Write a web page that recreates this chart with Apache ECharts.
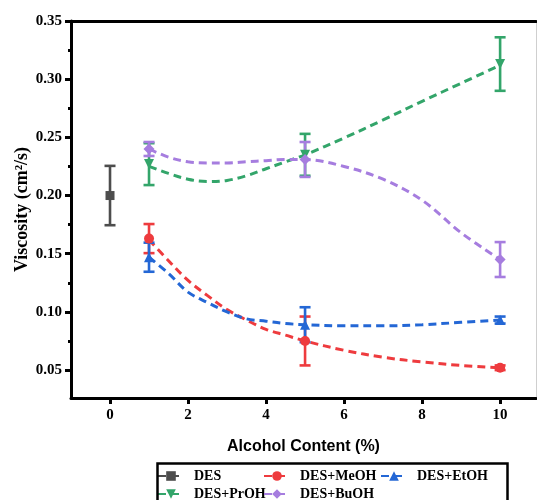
<!DOCTYPE html>
<html>
<head>
<meta charset="utf-8">
<script src="https://cdn.jsdelivr.net/npm/echarts@6/dist/echarts.min.js"></script>
<style>html,body{margin:0;padding:0;background:#fff}#c{width:537px;height:500px}</style>
</head>
<body>
<div id="c"></div>
<script>
// ---- data ----
const seriesNames = ['DES', 'DES+MeOH', 'DES+EtOH', 'DES+PrOH', 'DES+BuOH'];
const xTicks = [0, 2, 4, 6, 8, 10];
const yTicks = [0.05, 0.10, 0.15, 0.20, 0.25, 0.30, 0.35];
const yMinorTicks = [0.075, 0.125, 0.175, 0.225, 0.275, 0.325];

const desX = [0];
const desY = [0.200];
const desErr = [0.0255];

const alcX = [1, 5, 10];
const meohY = [0.163, 0.075, 0.052];
const meohErr = [0.0125, 0.021, 0.002];
const etohY = [0.147, 0.089, 0.093];
const etohErr = [0.0125, 0.015, 0.003];
const prohY = [0.227, 0.235, 0.313];
const prohErr = [0.018, 0.018, 0.023];
const buohY = [0.240, 0.231, 0.145];
const buohErr = [0.006, 0.015, 0.015];

// fitted (dashed) curves
const curveX = [1, 1.5, 2, 2.5, 3, 3.5, 4, 4.5, 5, 6, 7, 8, 9, 10];
const meohCurve = [0.162, 0.144, 0.127, 0.114, 0.102, 0.093, 0.085, 0.080, 0.075, 0.067, 0.061, 0.057, 0.054, 0.052];
const etohCurve = [0.147, 0.133, 0.117, 0.108, 0.100, 0.094, 0.092, 0.090, 0.089, 0.088, 0.088, 0.089, 0.091, 0.093];
const prohCurve = [0.225, 0.219, 0.214, 0.212, 0.213, 0.217, 0.223, 0.229, 0.235, 0.2495, 0.265, 0.281, 0.2965, 0.312];
const buohCurve = [0.240, 0.233, 0.229, 0.228, 0.228, 0.229, 0.230, 0.231, 0.231, 0.225, 0.214, 0.196, 0.168, 0.145];

// ---- styling ----
const colors = {
  'DES': '#4d4d4d',
  'DES+MeOH': '#ee3b3e',
  'DES+EtOH': '#2467d5',
  'DES+PrOH': '#33a56a',
  'DES+BuOH': '#a67ddf'
};
const symbols = {
  'DES': 'rect',
  'DES+MeOH': 'circle',
  'DES+EtOH': 'triangle',
  'DES+PrOH': 'path://M0,0 L10,0 L5,9 Z',
  'DES+BuOH': 'diamond'
};
const symSize = {
  'DES': 9, 'DES+MeOH': 10, 'DES+EtOH': 10, 'DES+PrOH': 10, 'DES+BuOH': 11
};
const dash = [8, 5];
const serif = '"Liberation Serif", "Times New Roman", serif';
const sans = '"Liberation Sans", Arial, sans-serif';

function zip(xs, ys) { return xs.map((x, i) => [x, ys[i]]); }

function curveSeries(name, ys, xs) {
  return {
    name: name, type: 'line', smooth: 0.35,
    data: zip(xs, ys),
    symbol: symbols[name], symbolSize: symSize[name], showSymbol: name === 'DES',
    lineStyle: { color: colors[name], width: 3, type: dash },
    itemStyle: { color: colors[name] },
    emphasis: { disabled: true }, z: 3
  };
}
function pointSeries(name, xs, ys) {
  return {
    name: name, type: 'scatter', data: zip(xs, ys),
    symbol: symbols[name], symbolSize: symSize[name],
    itemStyle: { color: colors[name], opacity: 1 },
    emphasis: { disabled: true }, z: 5
  };
}
function errSeries(name, xs, ys, errs) {
  const col = colors[name];
  return {
    name: name, type: 'custom',
    data: xs.map((x, i) => [x, ys[i] - errs[i], ys[i] + errs[i]]),
    encode: { x: 0, y: [1, 2] },
    z: 4, silent: true,
    renderItem: function (params, api) {
      const x = api.value(0);
      const lo = api.coord([x, api.value(1)]);
      const hi = api.coord([x, api.value(2)]);
      const w = 5.5;
      const st = { stroke: col, lineWidth: 2.6 };
      return {
        type: 'group',
        children: [
          { type: 'line', shape: { x1: lo[0], y1: lo[1], x2: hi[0], y2: hi[1] }, style: st },
          { type: 'line', shape: { x1: lo[0] - w, y1: lo[1], x2: lo[0] + w, y2: lo[1] }, style: st },
          { type: 'line', shape: { x1: hi[0] - w, y1: hi[1], x2: hi[0] + w, y2: hi[1] }, style: st }
        ]
      };
    }
  };
}

const series = [
  curveSeries('DES', desY, desX),
  curveSeries('DES+MeOH', meohCurve, curveX),
  curveSeries('DES+EtOH', etohCurve, curveX),
  curveSeries('DES+PrOH', prohCurve, curveX),
  curveSeries('DES+BuOH', buohCurve, curveX),
  errSeries('DES', desX, desY, desErr),
  errSeries('DES+MeOH', alcX, meohY, meohErr),
  errSeries('DES+EtOH', alcX, etohY, etohErr),
  errSeries('DES+PrOH', alcX, prohY, prohErr),
  errSeries('DES+BuOH', alcX, buohY, buohErr),
  pointSeries('DES+MeOH', alcX, meohY),
  pointSeries('DES+EtOH', alcX, etohY),
  pointSeries('DES+PrOH', alcX, prohY),
  pointSeries('DES+BuOH', alcX, buohY)
];
series[0].z = 5;

const xMin = -1, xMax = 10.92, yMin = 0.026, yMax = 0.35;
const axisBlack = { show: true, onZero: false, lineStyle: { color: '#000', width: 3 } };

// legend: one component per item so the columns line up like the reference
const legendPos = [
  { left: 157, top: 469 }, { left: 263, top: 469 }, { left: 380, top: 469 },
  { left: 157, top: 487 }, { left: 263, top: 487 }
];
const legends = seriesNames.map((n, i) => ({
  data: [n], left: legendPos[i].left, top: legendPos[i].top,
  padding: 0, itemWidth: 26, itemHeight: 12,
  selectedMode: false,
  textStyle: { color: '#000', fontFamily: serif, fontWeight: 'bold', fontSize: 14, padding: [0, 0, 0, 5] }
}));

const option = {
  animation: false,
  backgroundColor: '#fff',
  grid: { left: 71, right: 1, top: 21, bottom: 102, containLabel: false },
  xAxis: [
    {
      type: 'value', min: xMin, max: xMax, position: 'bottom',
      axisLine: axisBlack,
      splitLine: { show: false },
      axisTick: { show: true, inside: false, length: 6, lineStyle: { width: 3, color: '#000' }, customValues: xTicks },
      axisLabel: { customValues: xTicks, margin: 10, color: '#000', fontFamily: serif, fontWeight: 'bold', fontSize: 15 },
      name: 'Alcohol Content (%)', nameLocation: 'middle', nameGap: 41,
      nameTextStyle: { color: '#000', fontFamily: sans, fontWeight: 'bold', fontSize: 16 }
    },
    {
      type: 'value', min: xMin, max: xMax, position: 'top',
      axisLine: axisBlack, axisTick: { show: false }, axisLabel: { show: false }, splitLine: { show: false }
    }
  ],
  yAxis: [
    {
      type: 'value', min: yMin, max: yMax, position: 'left',
      axisLine: axisBlack,
      splitLine: { show: false },
      axisTick: { show: true, inside: false, length: 6, lineStyle: { width: 3, color: '#000' }, customValues: yTicks },
      axisLabel: { customValues: yTicks, margin: 9, color: '#000', fontFamily: serif, fontWeight: 'bold', fontSize: 15,
        formatter: v => v.toFixed(2) },
      name: 'Viscosity (cm²/s)', nameLocation: 'middle', nameGap: 40, nameRotate: 90, nameMoveOverlap: false,
      nameTextStyle: { color: '#000', fontFamily: serif, fontWeight: 'bold', fontSize: 18 }
    },
    {
      type: 'value', min: yMin, max: yMax, position: 'left',
      axisLine: { show: false, onZero: false }, splitLine: { show: false }, axisLabel: { show: false },
      axisTick: { show: true, inside: false, length: 3, lineStyle: { width: 3, color: '#000' }, customValues: yMinorTicks }
    },
    {
      type: 'value', min: yMin, max: yMax, position: 'right',
      axisLine: { show: true, onZero: false, lineStyle: { color: '#cfcfcf', width: 1 } },
      splitLine: { show: false }, axisLabel: { show: false }, axisTick: { show: false }
    }
  ],
  legend: legends,
  graphic: [{
    type: 'rect', left: 155, top: 461, silent: true, z: 10,
    shape: { width: 350, height: 60 },
    style: { fill: 'none', stroke: '#000', lineWidth: 2.5 }
  }],
  series: series
};
const chart = echarts.init(document.getElementById('c'), null, { renderer: 'canvas' });
chart.setOption(option);
</script>
</body>
</html>
